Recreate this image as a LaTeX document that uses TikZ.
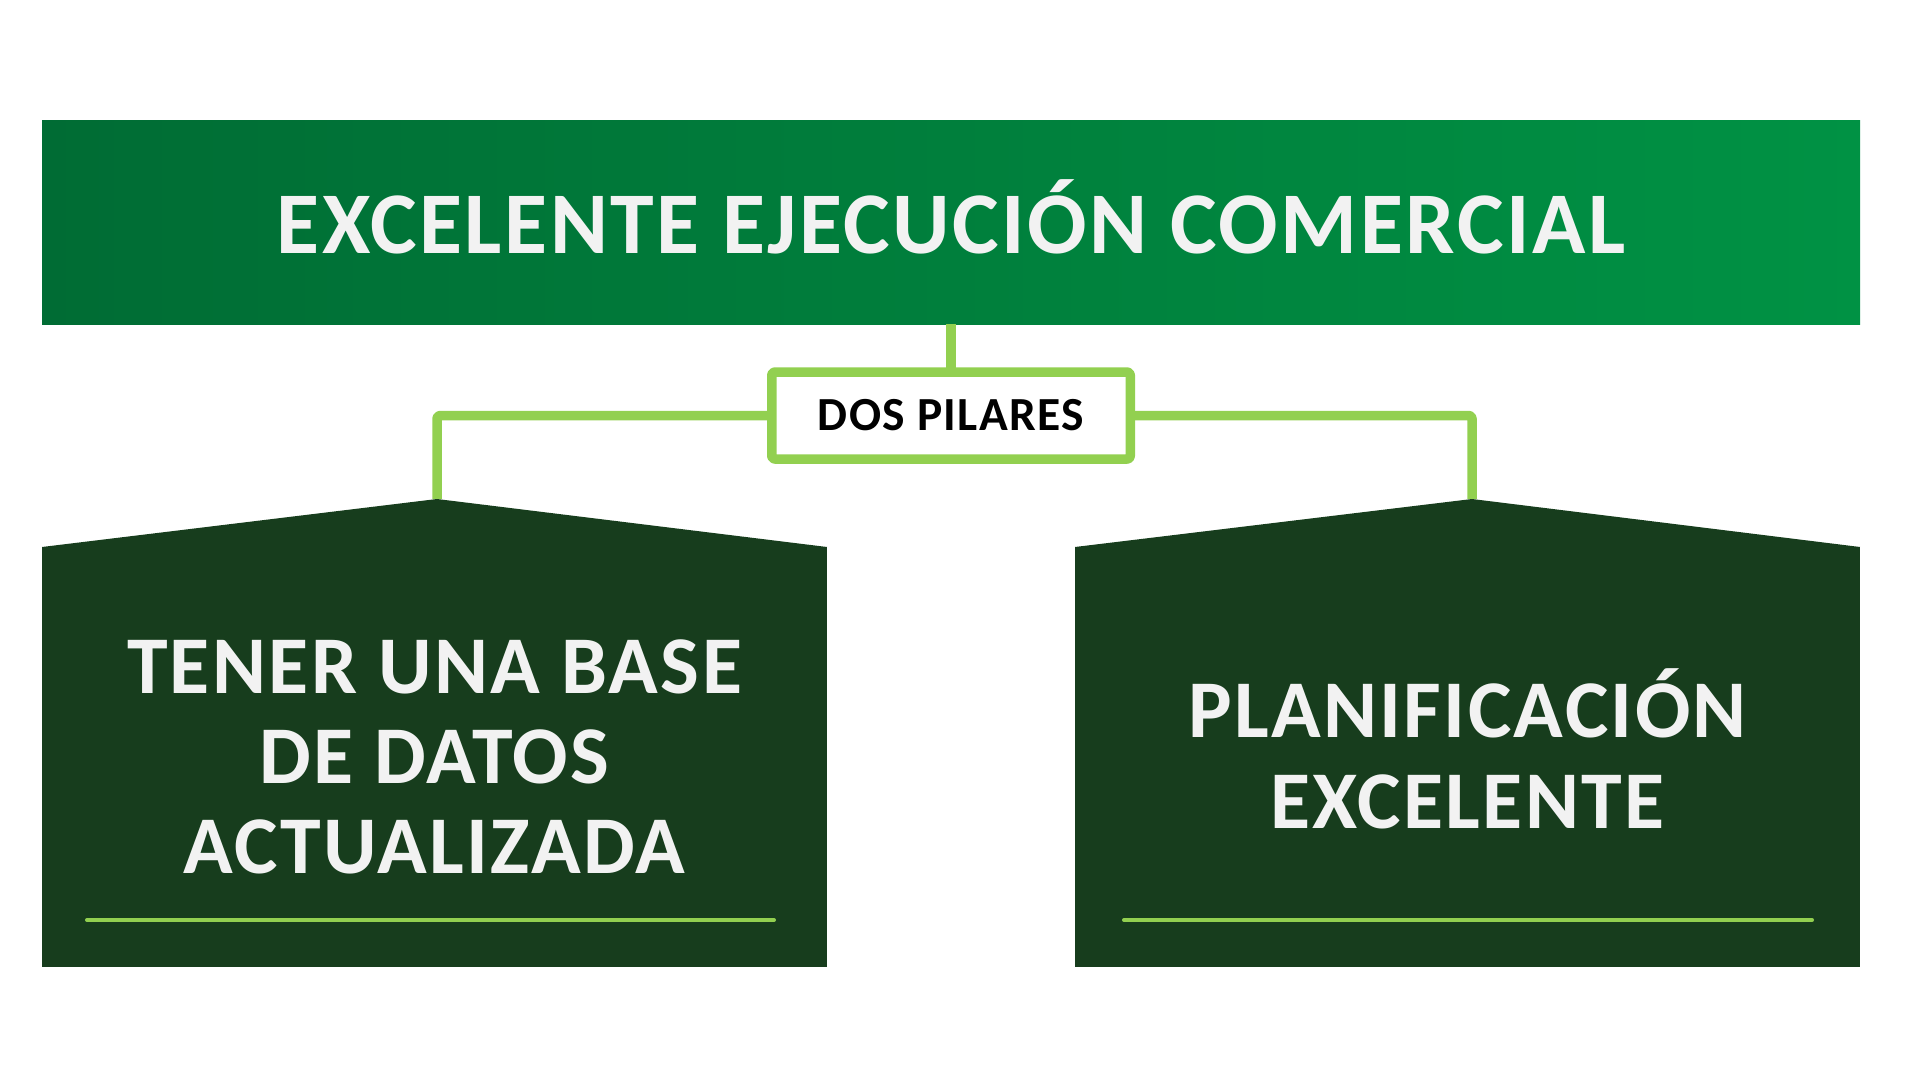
\documentclass[tikz,border=0pt]{standalone}
\usepackage{fontspec}
\setmainfont{Carlito}
\newfontfamily\widefont{Carlito}[LetterSpace=2.9]
\usetikzlibrary{positioning}

\definecolor{barleft}{RGB}{0,108,52}
\definecolor{barright}{RGB}{0,146,68}
\definecolor{pilargreen}{RGB}{23,61,29}
\definecolor{linegreen}{RGB}{146,208,80}
\definecolor{textwhite}{RGB}{242,242,242}

\begin{document}
\begin{tikzpicture}[x=1pt, y=1pt, line join=round,
      every node/.append style={inner sep=0pt, outer sep=0pt},
      link/.style={draw=linegreen, line width=9.5pt, rounded corners=3pt},
      underline/.style={draw=linegreen, line width=4pt, line cap=round}]
    \tikzstyle{word} = [text=textwhite, align=center, font=\fontsize{82}{90}\selectfont\widefont\bfseries, text depth=0pt]
    \tikzstyle{pilar} = [fill=pilargreen, minimum width=785pt, minimum height=420pt]
    \useasboundingbox (0,0) rectangle (1920,1080);
    % top bar
    \node (title) [minimum width=1818pt, minimum height=203.3pt, left color=barleft, right color=barright,
      text=textwhite, font=\fontsize{88}{96}\selectfont\widefont\bfseries, text height=61.8pt, text depth=0pt]
      at (951,857.6) {EXCELENTE EJECUCIÓN COMERCIAL};
    \node (pilares) [below=48pt of title, draw=linegreen, line width=9.5pt, rounded corners=3pt, fill=white,
      minimum width=358.5pt, minimum height=87pt, font=\fontsize{47.5}{50}\selectfont\widefont\bfseries,
      text height=30pt, text depth=0pt] {DOS PILARES};
    % the two pillars
    \node (pilarA) [pilar, word, text height=232pt] at (434.5,323) {TENER UNA BASE\\DE DATOS\\ACTUALIZADA};
    \node (pilarB) [pilar, word, text height=142pt] at (1467.5,323) {PLANIFICACIÓN\\EXCELENTE};
    \coordinate [above right=48pt and 2.5pt of pilarA.north] (peakA);
    \coordinate [above right=48pt and 4.5pt of pilarB.north] (peakB);
    \fill [pilargreen] (pilarA.north west) -- (peakA) -- (pilarA.north east) -- cycle;
    \fill [pilargreen] (pilarB.north west) -- (peakB) -- (pilarB.north east) -- cycle;
    \coordinate [above right=47pt and 45pt of pilarA.south west] (lineAstart);
    \coordinate [above left=47pt and 53pt of pilarA.south east] (lineAend);
    \coordinate [above right=47pt and 49pt of pilarB.south west] (lineBstart);
    \coordinate [above left=47pt and 48pt of pilarB.south east] (lineBend);
    \draw [underline] (lineAstart) -- (lineAend);
    \draw [underline] (lineBstart) -- (lineBend);
    % connectors
    \draw [link] (pilares.north) -- (pilares.north |- title.south);
    \draw [link] (pilares.west) -| (peakA);
    \draw [link] (pilares.east) -| (peakB);
  \end{tikzpicture}
\end{document}
